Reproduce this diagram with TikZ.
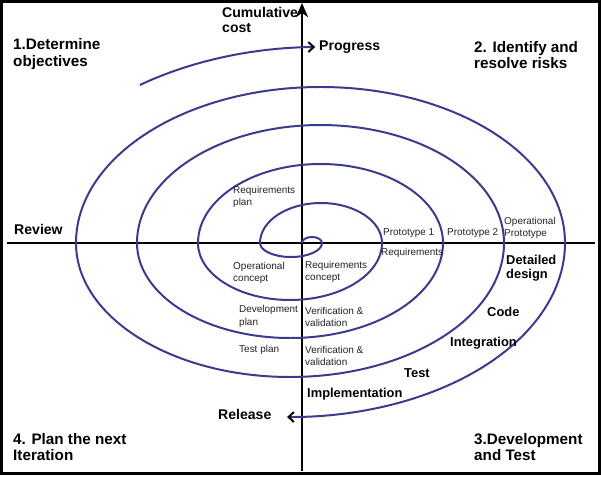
\documentclass[tikz,border=0pt]{standalone}
\usepackage{fontspec}
\setmainfont{Liberation Sans}
\usepackage{xcolor}
\definecolor{spblue}{HTML}{3B3B8E}
\definecolor{sptext}{HTML}{222222}
\usetikzlibrary{arrows.meta}

\begin{document}
\begin{tikzpicture}[x=0.03cm,y=0.03cm,
  quad/.style={anchor=west,align=left,inner sep=0pt,font=\bfseries\fontsize{13}{13.8}\selectfont},
  big/.style={anchor=west,align=left,inner sep=0pt,font=\bfseries\fontsize{12}{12.8}\selectfont},
  phase/.style={anchor=west,align=left,inner sep=0pt,font=\bfseries\fontsize{11}{12}\selectfont},
  act/.style={anchor=west,align=left,inner sep=0pt,text=sptext,font=\fontsize{8.5}{10.4}\selectfont},
  axis/.style={draw=black,line width=2.5pt},
  spiral/.style={draw=spblue,line width=1.7pt}]
\useasboundingbox (-302,-233) rectangle (299,243);
\draw[line width=2.6pt] (-300.5,-230.5) rectangle (297.5,241.5);
% axes
\coordinate (o) at (0,0);
\coordinate (ytop) at (0,240);
\coordinate (ybot) at (0,-228);
\coordinate (xl) at (-295,0);
\coordinate (xr) at (293,0);
\draw[axis,-{Stealth[length=4.2mm,width=3.6mm,inset=1.2mm]}] (ybot) -- (ytop);
\draw[axis] (xl) -- (xr);
% spiral
\draw[spiral,-{Straight Barb[length=1.6mm,width=3mm,color=black]}] (o)
  arc[start angle=180,end angle=0,x radius=10,y radius=6]
  arc[start angle=0,end angle=-180,x radius=31,y radius=14]
  arc[start angle=180,end angle=0,x radius=61,y radius=40]
  arc[start angle=0,end angle=-180,x radius=92,y radius=57]
  arc[start angle=180,end angle=0,x radius=122.5,y radius=79]
  arc[start angle=0,end angle=-180,x radius=153,y radius=95]
  arc[start angle=180,end angle=0,x radius=183.5,y radius=118]
  arc[start angle=0,end angle=-180,x radius=214,y radius=134]
  arc[start angle=180,end angle=0,x radius=244.5,y radius=156]
  arc[start angle=0,end angle=-90.6,x radius=275,y radius=174];
\coordinate (pstart) at (-162.1,158);
\draw[spiral,-{Straight Barb[length=1.6mm,width=3mm,color=black]}] (pstart)
  arc[start angle=126.3,end angle=91,x radius=305,y radius=196];
% labels
\node[big] (cost) at (-80,223) {Cumulative\\cost};
\node[big] (prog) at (17,196) {Progress};
\node[big] (rev) at (-288,14) {Review};
\node[big] (rel) at (-84,-171) {Release};
\node[quad] (q1) at (-289,189) {1.Determine\\objectives};
\node[quad] (q2) at (172,188) {2. Identify and\\resolve risks};
\node[quad] (q3) at (172,-204) {3.Development\\and Test};
\node[quad] (q4) at (-289,-204) {4. Plan the next\\Iteration};
\node[act] (rplan) at (-69,46) {Requirements\\plan};
\node[act] (pro1) at (81,10) {Prototype 1};
\node[act] (pro2) at (145,10) {Prototype 2};
\node[act] (opro) at (202,15) {Operational\\Prototype};
\node[act] (req) at (79,-10) {Requirements};
\node[act] (rcon) at (3,-29) {Requirements\\concept};
\node[act] (ocon) at (-69,-30) {Operational\\concept};
\node[act] (dplan) at (-63,-73.5) {Development\\plan};
\node[act] (tplan) at (-63,-107) {Test plan};
\node[act] (vv1) at (3,-74) {Verification \&\\validation};
\node[act] (vv2) at (3,-113) {Verification \&\\validation};
\node[phase] (ddes) at (204,-25) {Detailed\\design};
\node[phase] (code) at (185,-69) {Code};
\node[phase] (integ) at (148,-100) {Integration};
\node[phase] (test) at (102,-130) {Test};
\node[phase] (impl) at (5,-151) {Implementation};
\end{tikzpicture}
\end{document}
